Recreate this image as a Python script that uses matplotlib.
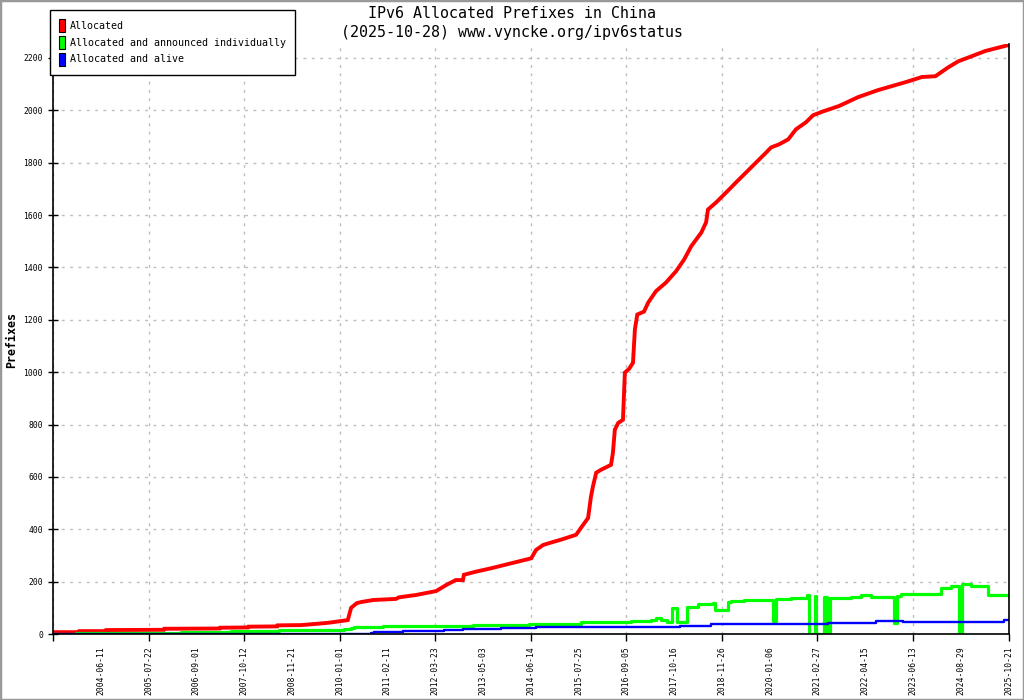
import matplotlib
matplotlib.use("Agg")
import matplotlib.pyplot as plt
from matplotlib.patches import Patch, Rectangle

# x positions are in "tick slots": slot k sits under date_labels[k]
date_labels = [
    "2004-06-11", "2005-07-22", "2006-09-01", "2007-10-12", "2008-11-21",
    "2010-01-01", "2011-02-11", "2012-03-23", "2013-05-03", "2014-06-14",
    "2015-07-25", "2016-09-05", "2017-10-16", "2018-11-26", "2020-01-06",
    "2021-02-27", "2022-04-15", "2023-06-13", "2024-08-29", "2025-10-21",
]

alloc_x = [-1.00, -0.46, -0.45, 0.10, 0.11, 1.32, 1.33, 2.49, 2.50, 3.08, 3.09,
           3.69, 3.70, 4.19, 4.46, 4.77, 5.17, 5.24, 5.36, 5.45, 5.71, 6.18,
           6.24, 6.60, 7.02, 7.23, 7.43, 7.58, 7.60, 7.85, 8.17, 8.59, 9.01,
           9.11, 9.26, 9.42, 9.63, 9.95, 10.05, 10.20, 10.26, 10.30, 10.37,
           10.47, 10.68, 10.72, 10.76, 10.83, 10.93, 10.97, 11.06, 11.14,
           11.18, 11.23, 11.37, 11.46, 11.62, 11.83, 12.04, 12.21, 12.36,
           12.57, 12.67, 12.71, 12.88, 13.09, 13.30, 13.51, 13.72, 13.93,
           14.03, 14.20, 14.39, 14.55, 14.76, 14.91, 15.14, 15.45, 15.85,
           16.27, 16.84, 17.19, 17.47, 17.74, 17.95, 18.24, 18.51, 19.00]
alloc_y = [7, 7, 11, 11, 15, 16, 20, 21, 24, 25, 28,
           29, 33, 34, 38, 43, 53, 100, 118, 122, 130, 134,
           140, 149, 164, 187, 206, 206, 226, 238, 251, 270, 289,
           321, 340, 349, 360, 379, 405, 443, 524, 562, 616,
           627, 646, 692, 780, 806, 818, 998, 1013, 1036,
           1163, 1220, 1231, 1266, 1309, 1342, 1385, 1430, 1481,
           1533, 1572, 1621, 1648, 1686, 1725, 1763, 1801, 1839,
           1858, 1870, 1889, 1927, 1954, 1981, 1997, 2016, 2050,
           2077, 2107, 2127, 2130, 2164, 2187, 2207, 2226, 2249]

announced_x = [-1.00, -0.52, 1.68, 2.72, 3.73, 5.09, 5.24, 5.30, 5.91, 7.79,
               8.96, 10.05, 11.02, 11.10, 11.52, 11.62, 11.73, 11.85, 11.95,
               12.06, 12.27, 12.50, 12.82, 12.86, 13.13, 13.19, 13.47, 13.82,
               14.07, 14.14, 14.45, 14.66, 14.79, 14.83, 14.95, 14.97, 15.14,
               15.20, 15.27, 15.71, 15.92, 16.13, 16.60, 16.67, 16.75, 17.59,
               17.80, 17.96, 18.03, 18.22, 18.57, 19.00]
announced_y = [0, 5, 8, 12, 15, 19, 24, 28, 32, 36,
               38, 45, 47, 48, 53, 60, 53, 47, 100,
               46, 105, 115, 120, 92, 124, 127, 130, 131,
               49, 133, 138, 137, 149, 0, 145, 0, 142,
               0, 138, 143, 149, 143, 43, 145, 152, 175,
               184, 0, 190, 184, 149, 149]

alive_x = [-1.00, 5.65, 5.72, 6.32, 7.18, 7.58, 8.38, 9.11, 11.02, 12.13,
           12.77, 13.24, 15.23, 16.23, 16.80, 17.13, 18.91, 19.00]
alive_y = [0, 3, 6, 11, 15, 19, 23, 27, 28, 32,
           37, 40, 43, 48, 45, 47, 52, 52]

y_ticks = list(range(0, 2201, 200))

MONO = "DejaVu Sans Mono"

fig = plt.figure(figsize=(10.24, 7.0), dpi=100)
ax = fig.add_axes([53 / 1024, 1 - 634 / 700, 955.5 / 1024, 590 / 700])

ax.plot(alloc_x, alloc_y, color="#ff0000", lw=2.8, solid_joinstyle="miter")
ax.plot(announced_x, announced_y, color="#00ff00", lw=2.3, drawstyle="steps-post")
ax.plot(alive_x, alive_y, color="#0000ff", lw=1.7, drawstyle="steps-post")

ax.set_xlim(-1, 19)
ax.set_ylim(0, 2253)

# labels at every slot, tick marks + grid every second slot
ax.xaxis.remove_overlapping_locs = False
ax.set_xticks(range(len(date_labels)))
ax.set_xticklabels(date_labels, rotation=90, fontsize=5.8, family=MONO)
ax.set_xticks(range(-1, len(date_labels), 2), minor=True)
ax.tick_params(axis="x", which="major", length=0, pad=8.5)
ax.tick_params(axis="x", which="minor", length=5, width=1, direction="out")

ax.set_yticks(y_ticks)
ax.set_yticklabels([str(v) for v in y_ticks], fontsize=5.8, family=MONO)
ax.tick_params(axis="y", length=6.5, width=1, direction="inout", pad=4)

grid_kw = dict(color="#bdbdbd", lw=1, linestyle=(0, (2, 4)))
ax.grid(True, axis="x", which="minor", **grid_kw)
ax.grid(True, axis="y", which="major", **grid_kw)
ax.set_axisbelow(True)

ax.spines["top"].set_visible(False)
for s in ("left", "bottom", "right"):
    ax.spines[s].set_linewidth(1.2)

fig.text(12 / 1024, 1 - 340 / 700, "Prefixes", rotation=90, ha="center",
         va="center", fontsize=8.4, fontweight="bold", family=MONO)

fig.text(0.5, 1 - 13 / 700, "IPv6 Allocated Prefixes in China",
         ha="center", va="center", fontsize=10.8, family=MONO)
fig.text(0.5, 1 - 32 / 700, "(2025-10-28) www.vyncke.org/ipv6status",
         ha="center", va="center", fontsize=10.8, family=MONO)

handles = [Patch(facecolor=c, edgecolor="black", lw=0.8)
           for c in ("#ff0000", "#00ff00", "#0000ff")]
names = ["Allocated", "Allocated and announced individually", "Allocated and alive"]
leg = fig.legend(handles, names, loc="upper left",
                 bbox_to_anchor=(50 / 1024, 1 - 10 / 700),
                 bbox_transform=fig.transFigure,
                 prop={"family": MONO, "size": 7.2},
                 handlelength=0.6, handleheight=1.6, handletextpad=0.45,
                 labelspacing=0.4, borderpad=0.9, borderaxespad=0,
                 fancybox=False, framealpha=1, edgecolor="black")
leg.get_frame().set_linewidth(1.0)

fig.patches.append(Rectangle((0, 0), 1, 1, transform=fig.transFigure,
                             fill=False, edgecolor="#999999", lw=2.5))

fig.savefig("out.png", dpi=100)
